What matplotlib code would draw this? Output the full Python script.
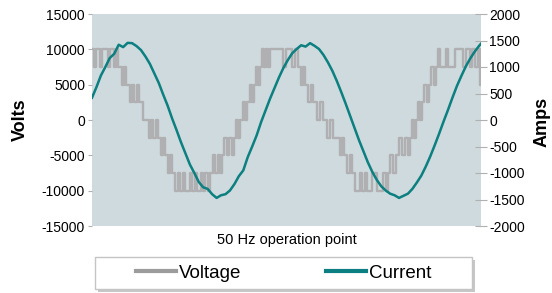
import matplotlib
matplotlib.use("Agg")
import matplotlib.pyplot as plt
from matplotlib.lines import Line2D
from matplotlib.patches import Rectangle

plt.rcParams['font.family'] = ['Liberation Sans', 'DejaVu Sans']
plt.rcParams['axes.unicode_minus'] = False

# voltage: switching instants (ms) and the level held after each one (V)
v_t = [0.00, 0.22, 0.45, 0.90, 1.12, 1.80, 2.02, 2.47, 2.70, 2.92,
       3.37, 3.60, 3.82, 4.27, 4.49, 4.72, 5.06, 5.28, 5.73, 6.40,
       6.63, 6.85, 7.19, 7.42, 7.75, 7.98, 8.20, 8.54, 8.76, 8.99,
       9.33, 9.66, 9.89, 10.22, 10.45, 11.01, 11.24, 11.57, 11.80, 12.25,
       12.47, 12.70, 13.03, 13.26, 13.60, 13.82, 14.16, 14.38, 14.61, 14.83,
       15.17, 15.39, 15.73, 15.96, 16.18, 16.40, 16.63, 16.97, 17.19, 17.42,
       17.75, 17.98, 18.20, 18.43, 18.65, 18.88, 19.10, 19.33, 19.55, 19.78,
       20.00, 21.46, 21.80, 22.47, 22.81, 23.15, 23.48, 23.71, 23.93, 24.27,
       24.61, 24.83, 25.28, 25.62, 25.96, 26.40, 26.74, 27.08, 27.87, 28.09,
       28.31, 28.65, 28.99, 29.21, 29.55, 30.11, 30.34, 30.67, 30.90, 31.46,
       32.02, 32.70, 33.04, 33.26, 33.48, 33.82, 34.16, 34.49, 34.83, 35.17,
       35.51, 35.73, 35.96, 36.18, 36.40, 36.63, 36.85, 37.08, 37.30, 37.64,
       37.87, 38.09, 38.43, 38.65, 38.88, 39.10, 39.78, 40.00, 40.79, 41.69,
       42.03, 42.47, 42.70, 43.03, 43.37, 43.60, 43.71]
v_level = [10000, 7500, 10000, 7500, 10000, 7500, 10000, 7500, 10000, 7500,
           5000, 7500, 5000, 2500, 5000, 2500, 5000, 2500, 0, -2500,
           0, -2500, 0, -2500, -5000, -2500, -5000, -7500, -5000, -7500,
           -10000, -7500, -10000, -7500, -10000, -7500, -10000, -7500, -10000, -7500,
           -10000, -7500, -10000, -7500, -5000, -7500, -5000, -7500, -5000, -2500,
           -5000, -2500, -5000, -2500, 0, -2500, 0, 2500, 0, 2500,
           5000, 2500, 5000, 7500, 5000, 7500, 10000, 7500, 10000, 7500,
           10000, 7500, 10000, 7500, 10000, 7500, 5000, 7500, 5000, 2500,
           5000, 2500, 0, 2500, 0, -2500, 0, -2500, -5000, -2500,
           -5000, -7500, -5000, -7500, -10000, -7500, -10000, -7500, -10000, -7500,
           -10000, -7500, -10000, -7500, -5000, -7500, -5000, -2500, -5000, -2500,
           -5000, -2500, 0, -2500, 0, 2500, 0, 2500, 5000, 2500,
           5000, 7500, 5000, 7500, 10000, 7500, 10000, 7500, 10000, 7500,
           10000, 7500, 10000, 7500, 10000, 5000, 5000]

# current samples every 0.5 ms (A)
i_t = [k * 0.5 for k in range(88)] + [43.71]
i_amp = [420, 620, 840, 1000, 1170, 1250, 1420, 1375, 1455, 1450,
         1395, 1320, 1200, 1060, 880, 700, 480, 270, 30, -190,
         -420, -630, -840, -1000, -1170, -1270, -1300, -1400, -1470, -1420,
         -1400, -1330, -1210, -1060, -950, -700, -500, -290, -40, 180,
         400, 600, 800, 980, 1130, 1260, 1340, 1410, 1385, 1450,
         1400, 1340, 1230, 1090, 930, 740, 530, 310, 80, -150,
         -380, -590, -800, -980, -1130, -1250, -1330, -1390, -1420, -1470,
         -1430, -1390, -1300, -1180, -1050, -880, -690, -480, -260, -30,
         190, 420, 640, 830, 1010, 1160, 1290, 1400, 1440]

grey = '#b0b0b2'
teal = '#0c7f80'

fig = plt.figure(figsize=(5.52, 2.93), dpi=100)
ax = fig.add_axes([92/552, 1-226/293, 389/552, 212/293])
ax.set_facecolor('#cedadd')
ax.step(v_t, v_level, where='post', color=grey, lw=1.7)
ax.set_xlim(0, 43.71)
ax.set_ylim(-15000, 15000)
ax.set_yticks(range(-15000, 15001, 5000))
ax.set_xticks([])
for s in ax.spines.values():
    s.set_visible(False)
ax.tick_params(axis='y', length=3, color='#b0b0b0', labelsize=10, pad=2)
ax.set_xlabel('50 Hz operation point', fontsize=10.5, labelpad=5)

ax2 = ax.twinx()
ax2.plot(i_t, i_amp, color=teal, lw=1.8)
ax2.set_ylim(-2000, 2000)
ax2.set_yticks(range(-2000, 2001, 500))
for s in ax2.spines.values():
    s.set_visible(False)
ax2.tick_params(axis='y', direction='inout', length=8, color='#b0b0b0', labelsize=10, pad=2)

fig.text(12/552, 0.59, 'Volts', rotation=90, fontweight='bold', fontsize=13, ha='left', va='center')
fig.text(551/552, 0.585, 'Amps', rotation=90, fontweight='bold', fontsize=13, ha='right', va='center')

# legend frame with a soft shadow
W, H = 552, 293
fig.patches.append(Rectangle((98/W, 1-292/H), 377/W, 32/H, transform=fig.transFigure,
                             facecolor='#9a9a9a', edgecolor='none', alpha=0.55, zorder=1))
fig.patches.append(Rectangle((95/W, 1-289/H), 377/W, 32/H, transform=fig.transFigure,
                             facecolor='white', edgecolor='#c4c4c4', lw=1, zorder=2))

handles = [Line2D([], [], color='#9c9c9c', lw=3), Line2D([], [], color=teal, lw=3)]
leg = fig.legend(handles, ['Voltage', 'Current'], loc='center',
                 bbox_to_anchor=(283.5/W, 1-273/H), ncol=2, frameon=False,
                 fontsize=13.5, handlelength=2.15, handletextpad=0.15, columnspacing=4.5)
leg.set_zorder(3)

fig.savefig('out.png', dpi=100)
